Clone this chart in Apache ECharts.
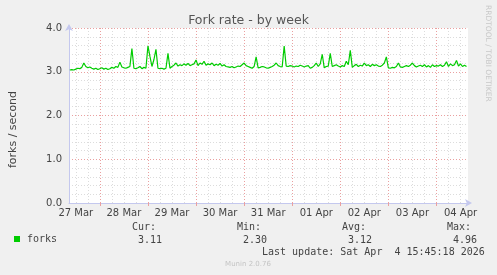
<!DOCTYPE html>
<html><head><meta charset="utf-8">
<script src="https://cdn.jsdelivr.net/npm/echarts@6/dist/echarts.min.js"></script>
<style>html,body{margin:0;padding:0;background:#f0f0f0;}#c{width:497px;height:275px;}</style>
</head><body><div id="c"></div>
<script>
// Time in hours since 27 Mar 00:00
const rangeStartHour = 8.6;
const rangeEndHour = 207.75;
const firstSampleHour = 9;
const sampleStepHours = 1;
const dayLabels = ['27 Mar','28 Mar','29 Mar','30 Mar','31 Mar','01 Apr','02 Apr','03 Apr','04 Apr'];
const yTicks = [0, 1, 2, 3, 4];
const forks = [
  3.04,3.05,3.04,3.06,3.08,3.07,3.10,3.20,3.12,3.09,
  3.11,3.08,3.06,3.08,3.05,3.07,3.09,3.06,3.08,3.05,
  3.07,3.10,3.08,3.12,3.10,3.22,3.11,3.09,3.08,3.10,
  3.12,3.53,3.08,3.07,3.09,3.12,3.07,3.10,3.08,3.59,
  3.35,3.12,3.28,3.51,3.08,3.07,3.08,3.06,3.08,3.42,
  3.08,3.12,3.15,3.20,3.13,3.16,3.14,3.18,3.15,3.19,
  3.14,3.16,3.18,3.27,3.14,3.20,3.17,3.24,3.15,3.18,
  3.16,3.20,3.14,3.17,3.15,3.19,3.13,3.16,3.12,3.11,
  3.10,3.12,3.09,3.11,3.13,3.12,3.16,3.20,3.14,3.12,
  3.10,3.08,3.12,3.34,3.09,3.10,3.12,3.11,3.09,3.08,
  3.10,3.12,3.15,3.20,3.14,3.12,3.11,3.59,3.13,3.12,
  3.14,3.13,3.11,3.13,3.12,3.15,3.13,3.11,3.13,3.14,
  3.08,3.10,3.14,3.20,3.12,3.18,3.40,3.09,3.12,3.13,
  3.42,3.12,3.14,3.16,3.13,3.11,3.14,3.12,3.24,3.16,
  3.49,3.10,3.14,3.17,3.12,3.15,3.13,3.20,3.14,3.16,
  3.12,3.17,3.14,3.16,3.13,3.12,3.15,3.20,3.34,3.09,
  3.08,3.10,3.09,3.12,3.20,3.11,3.10,3.12,3.14,3.12,
  3.15,3.20,3.14,3.11,3.13,3.15,3.12,3.16,3.11,3.14,
  3.10,3.16,3.12,3.14,3.13,3.16,3.12,3.15,3.23,3.12,
  3.18,3.14,3.16,3.26,3.13,3.18,3.12,3.15,3.12
];
const statNames = ['Cur:', 'Min:', 'Avg:', 'Max:'];
const statValues = ['3.11', '2.30', '3.12', '4.96'];
const seriesName = 'forks';
const titleText = 'Fork rate - by week';
const yAxisName = 'forks / second';
const lastUpdate = 'Last update: Sat Apr  4 15:45:18 2026';
const footer = 'Munin 2.0.76';
const watermark = 'RRDTOOL / TOBI OETIKER';

const seriesData = forks.map((v, i) => [firstSampleHour + i * sampleStepHours, v]);
const noonHours = dayLabels.map((d, i) => i * 24 + 12);
const midnightHours = [];
for (let h = 24; h < rangeEndHour; h += 24) midnightHours.push(h);
const minorHours = [];
for (let h = 6; h < rangeEndHour; h += 6) if (h > rangeStartHour && h % 24 !== 0) minorHours.push(h);

const mono = '"DejaVu Sans Mono", monospace';
const sans = '"DejaVu Sans", sans-serif';
const txtColor = '#444';
const axisBlue = '#c4c8ee';
const minorGrid = '#dcdcdc';
const majorGrid = '#eaa0a0';

const baseX = {
  type: 'value', gridIndex: 0, position: 'bottom',
  min: rangeStartHour, max: rangeEndHour
};

const graphics = [];
const statX = [132, 237, 342, 447];
statNames.forEach((n, i) => {
  graphics.push({type: 'text', x: statX[i], y: 227, style: {text: n, font: '10px ' + mono, fill: txtColor, textVerticalAlign: 'middle'}});
  graphics.push({type: 'text', x: statX[i] + 6, y: 240, style: {text: statValues[i], font: '10px ' + mono, fill: txtColor, textVerticalAlign: 'middle'}});
});
graphics.push({type: 'text', x: 262, y: 252, style: {text: lastUpdate, font: '10px ' + mono, fill: txtColor, textVerticalAlign: 'middle'}});
graphics.push({type: 'text', x: 248, y: 264, style: {text: footer, font: '7px ' + sans, fill: '#c4c4c4', textAlign: 'center', textVerticalAlign: 'middle'}});
graphics.push({type: 'text', x: 488, y: 5, rotation: -Math.PI / 2, style: {text: watermark, font: '7.5px ' + sans, fill: '#c8c8c8', textAlign: 'left', textVerticalAlign: 'middle'}});

const chart = echarts.init(document.getElementById('c'), null, {renderer: 'canvas'});
chart.setOption({
  animation: false,
  backgroundColor: '#f0f0f0',
  title: {
    text: titleText, left: 'center', top: 9,
    textStyle: {fontFamily: sans, fontSize: 12.5, fontWeight: 'normal', color: '#555'}
  },
  legend: {
    data: [seriesName], left: 14, top: 234, padding: 0, icon: 'rect',
    itemWidth: 6, itemHeight: 6,
    textStyle: {fontFamily: mono, fontSize: 10, color: txtColor, padding: [0, 0, 0, 2]}
  },
  grid: {left: 67, right: 29, top: 28, bottom: 72, backgroundColor: '#ffffff', show: true, borderWidth: 0},
  xAxis: [
    Object.assign({}, baseX, {
      axisLine: {show: false}, axisLabel: {show: false},
      axisTick: {show: false, customValues: minorHours},
      splitLine: {show: true, lineStyle: {color: minorGrid, type: [1, 2], width: 1}}
    }),
    Object.assign({}, baseX, {
      axisLine: {show: false}, axisLabel: {show: false},
      axisTick: {show: true, customValues: midnightHours, length: 3, lineStyle: {color: majorGrid}},
      splitLine: {show: true, lineStyle: {color: majorGrid, type: [1, 2], width: 1}}
    }),
    Object.assign({}, baseX, {
      axisLine: {show: true, lineStyle: {color: axisBlue}, symbol: ['none', 'arrow'], symbolSize: [6, 7], symbolOffset: [0, 4]},
      axisTick: {show: false, customValues: noonHours},
      axisLabel: {
        show: true, customValues: noonHours, margin: 5,
        fontFamily: sans, fontSize: 10, color: txtColor,
        formatter: v => dayLabels[Math.round((v - 12) / 24)]
      },
      splitLine: {show: false}
    })
  ],
  yAxis: [{
    type: 'value', min: yTicks[0], max: yTicks[yTicks.length - 1], interval: 1,
    name: yAxisName, nameLocation: 'middle', nameGap: 50,
    nameTextStyle: {fontFamily: sans, fontSize: 11, color: txtColor, padding: [0, 28, 0, 0]},
    axisLine: {show: true, lineStyle: {color: axisBlue}, symbol: ['none', 'arrow'], symbolSize: [6, 7], symbolOffset: [0, 4]},
    axisTick: {show: false},
    axisLabel: {margin: 7, fontFamily: sans, fontSize: 10, color: txtColor, formatter: v => v.toFixed(1)},
    splitLine: {show: true, lineStyle: {color: majorGrid, type: [1, 2], width: 1}},
    minorTick: {show: false, splitNumber: 5},
    minorSplitLine: {show: true, lineStyle: {color: minorGrid, type: [1, 2], width: 1}}
  }],
  series: [{
    name: seriesName, type: 'line', xAxisIndex: 2, yAxisIndex: 0,
    data: seriesData, showSymbol: false, symbol: 'none',
    lineStyle: {color: '#00cc00', width: 1.2}, itemStyle: {color: '#00cc00'}
  }],
  graphic: graphics
});
</script></body></html>
